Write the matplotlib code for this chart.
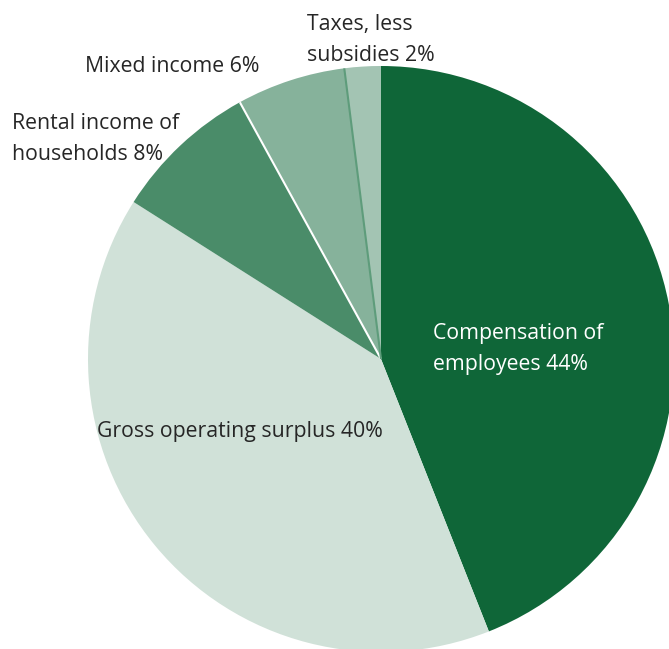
import numpy as np
import matplotlib.pyplot as plt

labels = ['Compensation of\nemployees 44%', 'Gross operating surplus 40%',
          'Rental income of\nhouseholds 8%', 'Mixed income 6%',
          'Taxes, less\nsubsidies 2%']
shares = [44, 40, 8, 6, 2]
colors = ['#0f6638', '#d0e1d8', '#4a8c69', '#86b29b', '#a3c4b3']

plt.rcParams['font.family'] = ['Open Sans', 'DejaVu Sans']

W, H = 669, 649
cx, cy, R = 381, 359, 293
fig = plt.figure(figsize=(W / 100, H / 100), dpi=100)
ax = fig.add_axes([0, 0, 1, 1])

wedges, _ = ax.pie(shares, colors=colors, startangle=90, counterclock=False,
                   radius=1, center=(0, 0), frame=True,
                   wedgeprops=dict(linewidth=0))
ax.set_xlim(-cx / R, (W - cx) / R)
ax.set_ylim(-(H - cy) / R, cy / R)
ax.set_aspect('equal')
ax.axis('off')

# separators: white between rental and mixed, darker green between mixed and taxes
bounds = 90 - 360 * np.cumsum(shares) / sum(shares)
for ang, col in [(bounds[2], 'white'), (bounds[3], '#5e9c7b')]:
    a = np.deg2rad(ang)
    ax.plot([0, np.cos(a)], [0, np.sin(a)], color=col, lw=1.5,
            solid_capstyle='butt')

# label anchors in pixel space (left x, centre y)
pos = [(433, 349), (97, 431), (12, 139), (85, 66), (307, 40)]
tcol = ['white', '#262626', '#262626', '#262626', '#262626']
for lab, (px, py), c in zip(labels, pos, tcol):
    ax.text((px - cx) / R, (cy - py) / R, lab, ha='left', va='center',
            fontsize=15.3, color=c, linespacing=1.62)

fig.savefig('out.png', dpi=100)
